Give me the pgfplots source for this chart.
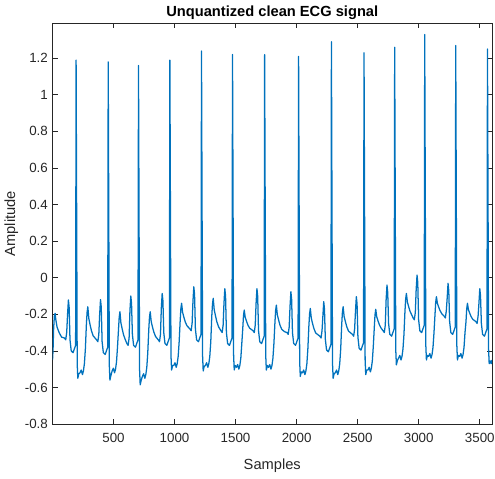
\documentclass[border=0pt]{standalone}
\usepackage{fontspec}
\setmainfont{Liberation Sans}
\usepackage{pgfplots}
\pgfplotsset{compat=1.18}
\definecolor{mblue}{rgb}{0,0.447,0.741}
\definecolor{axgray}{rgb}{0.15,0.15,0.15}

% ECG samples (sample index, amplitude)
\pgfplotstableread{
x y
1 -0.45
5 -0.40
10 -0.28
16 -0.21
22 -0.195
28 -0.23
38 -0.27
55 -0.30
75 -0.325
99 -0.33
109 -0.34
117 -0.30
124 -0.202
131 -0.122
137 -0.162
144 -0.34
154 -0.40
169 -0.41
182 -0.385
190 -0.37
194 1.19
203 -0.47
208 -0.55
216 -0.525
226 -0.52
236 -0.505
246 -0.53
254 -0.51
262 -0.47
270 -0.39
278 -0.259
284 -0.189
290 -0.159
298 -0.222
309 -0.259
320 -0.291
334 -0.318
362 -0.34
372 -0.35
380 -0.31
387 -0.20
394 -0.12
400 -0.16
407 -0.35
417 -0.41
432 -0.42
445 -0.395
453 -0.38
457 1.18
466 -0.48
471 -0.56
479 -0.535
489 -0.51
499 -0.495
509 -0.52
517 -0.50
525 -0.46
533 -0.38
541 -0.286
547 -0.216
553 -0.186
561 -0.247
572 -0.282
583 -0.313
597 -0.339
610 -0.36
620 -0.37
628 -0.33
635 -0.18
642 -0.10
648 -0.14
655 -0.31
665 -0.37
680 -0.38
693 -0.355
701 -0.34
705 1.16
714 -0.506
719 -0.586
727 -0.561
737 -0.54
747 -0.525
757 -0.55
765 -0.53
773 -0.49
781 -0.41
789 -0.286
795 -0.216
801 -0.186
809 -0.240
820 -0.271
831 -0.298
845 -0.322
867 -0.34
877 -0.35
885 -0.31
892 -0.166
899 -0.086
905 -0.126
912 -0.30
922 -0.36
937 -0.37
950 -0.345
958 -0.33
962 1.19
971 -0.425
976 -0.505
984 -0.48
994 -0.48
1004 -0.465
1014 -0.49
1022 -0.47
1030 -0.43
1038 -0.35
1046 -0.24
1052 -0.17
1058 -0.14
1066 -0.189
1077 -0.217
1088 -0.242
1102 -0.263
1126 -0.28
1136 -0.29
1144 -0.25
1151 -0.13
1158 -0.05
1164 -0.09
1171 -0.28
1181 -0.34
1196 -0.35
1209 -0.325
1217 -0.31
1221 1.24
1230 -0.43
1235 -0.51
1243 -0.485
1253 -0.48
1263 -0.465
1273 -0.49
1281 -0.47
1289 -0.43
1297 -0.35
1305 -0.213
1311 -0.143
1317 -0.113
1325 -0.175
1336 -0.210
1347 -0.242
1361 -0.269
1380 -0.29
1390 -0.30
1398 -0.26
1405 -0.14
1412 -0.06
1418 -0.10
1425 -0.30
1435 -0.36
1450 -0.37
1463 -0.345
1471 -0.33
1475 1.22
1484 -0.425
1489 -0.505
1497 -0.48
1507 -0.49
1517 -0.475
1527 -0.50
1535 -0.48
1543 -0.44
1551 -0.36
1559 -0.277
1565 -0.207
1571 -0.177
1579 -0.217
1590 -0.239
1601 -0.259
1615 -0.276
1643 -0.29
1653 -0.30
1661 -0.26
1668 -0.14
1675 -0.06
1681 -0.10
1688 -0.29
1698 -0.35
1713 -0.36
1726 -0.335
1734 -0.32
1738 1.22
1747 -0.425
1752 -0.505
1760 -0.48
1770 -0.49
1780 -0.475
1790 -0.50
1798 -0.48
1806 -0.44
1814 -0.36
1822 -0.25
1828 -0.18
1834 -0.15
1842 -0.203
1853 -0.233
1864 -0.260
1878 -0.282
1900 -0.295
1921 -0.30
1931 -0.31
1939 -0.27
1946 -0.157
1953 -0.077
1959 -0.117
1966 -0.30
1976 -0.36
1991 -0.37
2004 -0.345
2012 -0.33
2016 1.21
2025 -0.46
2030 -0.54
2038 -0.515
2048 -0.52
2058 -0.505
2068 -0.53
2076 -0.51
2084 -0.47
2092 -0.39
2100 -0.268
2106 -0.198
2112 -0.168
2120 -0.221
2131 -0.252
2142 -0.279
2156 -0.302
2190 -0.32
2200 -0.33
2208 -0.29
2215 -0.211
2222 -0.131
2228 -0.171
2235 -0.335
2245 -0.395
2260 -0.405
2273 -0.38
2281 -0.365
2285 1.29
2294 -0.47
2299 -0.55
2307 -0.525
2317 -0.52
2327 -0.505
2337 -0.53
2345 -0.51
2353 -0.47
2361 -0.39
2369 -0.259
2375 -0.189
2381 -0.159
2389 -0.212
2400 -0.242
2411 -0.269
2425 -0.292
2457 -0.31
2467 -0.32
2475 -0.28
2482 -0.184
2489 -0.104
2495 -0.144
2502 -0.326
2512 -0.386
2527 -0.396
2540 -0.371
2548 -0.356
2552 1.23
2561 -0.45
2566 -0.53
2574 -0.505
2584 -0.505
2594 -0.49
2604 -0.515
2612 -0.495
2620 -0.455
2628 -0.375
2636 -0.273
2642 -0.203
2648 -0.173
2656 -0.214
2667 -0.237
2678 -0.258
2692 -0.276
2708 -0.29
2718 -0.30
2726 -0.26
2733 -0.12
2740 -0.04
2746 -0.08
2753 -0.25
2763 -0.31
2778 -0.32
2791 -0.295
2799 -0.28
2803 1.26
2812 -0.397
2817 -0.477
2825 -0.452
2835 -0.44
2845 -0.425
2855 -0.45
2863 -0.43
2871 -0.39
2879 -0.31
2887 -0.186
2893 -0.116
2899 -0.086
2907 -0.133
2918 -0.160
2929 -0.184
2943 -0.204
2954 -0.22
2964 -0.23
2972 -0.19
2979 -0.066
2986 0.014
2992 -0.026
2999 -0.23
3009 -0.29
3024 -0.30
3037 -0.275
3045 -0.26
3049 1.33
3058 -0.37
3063 -0.45
3071 -0.425
3081 -0.43
3091 -0.415
3101 -0.44
3109 -0.42
3117 -0.38
3125 -0.30
3133 -0.204
3139 -0.134
3145 -0.104
3153 -0.141
3164 -0.162
3175 -0.181
3189 -0.197
3208 -0.21
3218 -0.22
3226 -0.18
3233 -0.111
3240 -0.031
3246 -0.071
3253 -0.24
3263 -0.30
3278 -0.31
3291 -0.285
3299 -0.27
3303 1.27
3312 -0.37
3317 -0.45
3325 -0.425
3335 -0.43
3345 -0.415
3355 -0.44
3363 -0.42
3371 -0.38
3379 -0.30
3387 -0.24
3393 -0.17
3399 -0.14
3407 -0.175
3418 -0.195
3429 -0.213
3443 -0.228
3468 -0.24
3478 -0.25
3486 -0.21
3493 -0.14
3500 -0.06
3506 -0.10
3513 -0.25
3523 -0.31
3538 -0.32
3551 -0.295
3559 -0.28
3563 1.25
3572 -0.39
3577 -0.47
3585 -0.455
3593 -0.47
3600 -0.45
}\ecg

\begin{document}
\begin{tikzpicture}
\begin{axis}[
    name=ax,
    scale only axis,
    width=329.6pt, height=300.4pt,
    xmin=1, xmax=3600,
    ymin=-0.8, ymax=1.39,
    xtick={500,1000,1500,2000,2500,3000,3500},
    ytick={-0.8,-0.6,-0.4,-0.2,0,0.2,0.4,0.6,0.8,1,1.2},
    scaled x ticks=false,
    xticklabel style={/pgf/number format/1000 sep={}, yshift=-3.5pt},
    /pgf/number format/assume math mode=true,
    tick align=inside,
    major tick length=3.75pt,
    axis line style={axgray, line width=0.5pt},
    every tick/.style={axgray, line width=0.5pt},
    tick label style={font=\fontsize{10}{12}\selectfont, text=axgray},
    xlabel={Samples}, ylabel={Amplitude},
    label style={font=\fontsize{11}{13}\selectfont, text=axgray},
    xlabel style={at={([yshift=-34.5pt]axis description cs:0.5,0)}, anchor=base},
    ylabel style={at={([xshift=-28pt]axis description cs:0,0.5)}, anchor=base},
]
\addplot[mblue, line width=0.95pt, line join=round] table[x=x, y=y] {\ecg};
\end{axis}
\node[anchor=base, font=\fontsize{11}{13}\selectfont\bfseries, inner sep=0pt]
    at ([yshift=5pt]ax.north) {Unquantized clean ECG signal};
\pgfresetboundingbox
\path[use as bounding box] ([xshift=-39.4pt,yshift=-41.25pt]ax.south west)
    rectangle ([xshift=2.25pt,yshift=17.6pt]ax.north east);
\end{tikzpicture}
\end{document}
